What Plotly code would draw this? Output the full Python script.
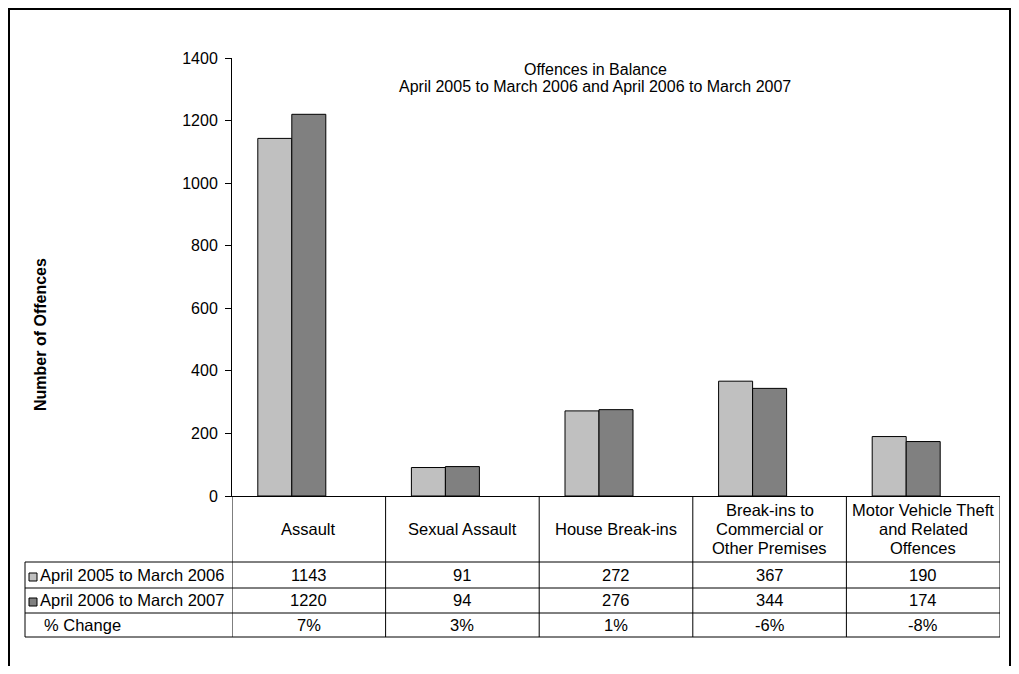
import plotly.graph_objects as go

# ---------------- data ----------------
categories = [
    "Assault",
    "Sexual Assault",
    "House Break-ins",
    "Break-ins to\nCommercial or\nOther Premises",
    "Motor Vehicle Theft\nand Related\nOffences",
]
series_names = ["April 2005 to March 2006", "April 2006 to March 2007", "% Change"]
values_2005_06 = [1143, 91, 272, 367, 190]
values_2006_07 = [1220, 94, 276, 344, 174]
pct_change = [7, 3, 1, -6, -8]

chart_title = "Offences in Balance"
chart_subtitle = "April 2005 to March 2006 and April 2006 to March 2007"
y_title = "Number of Offences"
y_ticks = [0, 200, 400, 600, 800, 1000, 1200, 1400]

# ---------------- geometry helpers (screen pixel -> paper) ----------------
OFF = 8  # page body margin
W, H = 1019 - OFF, 674 - 2 * OFF
# plot area in screen pixels: x 232..1000, y 58..496
L, R, T = 232 - OFF, (W + OFF) - 1000, 58 - OFF
B = (H + OFF) - 496
PW, PH = W - L - R, H - T - B


def px(x):
    return (x - OFF - L) / PW


def py(y):
    return (H - B - (y - OFF)) / PH


FONT = "Arial, 'Liberation Sans', sans-serif"
LIGHT = "#C0C0C0"
DARK = "#808080"

x_idx = list(range(len(categories)))

fig = go.Figure()
fig.add_trace(go.Bar(x=x_idx, y=values_2005_06, name=series_names[0],
                     marker=dict(color=LIGHT, line=dict(color="black", width=1))))
fig.add_trace(go.Bar(x=x_idx, y=values_2006_07, name=series_names[1],
                     marker=dict(color=DARK, line=dict(color="black", width=1))))
fig.add_trace(go.Bar(x=x_idx, y=[p / 100 for p in pct_change], name=series_names[2],
                     marker=dict(color="rgba(0,0,0,0)", line=dict(width=0))))

shapes = []
annotations = []

# outer frame (open at the bottom)
frame = dict(color="black", width=2)
shapes.append(dict(type="line", xref="paper", yref="paper",
                   x0=px(9), x1=px(9), y0=py(9), y1=py(700), line=frame))
shapes.append(dict(type="line", xref="paper", yref="paper",
                   x0=px(1010), x1=px(1010), y0=py(9), y1=py(700), line=frame))
shapes.append(dict(type="line", xref="paper", yref="paper",
                   x0=px(8), x1=px(1011), y0=py(9), y1=py(9), line=frame))

# data table lines
row_lines = [562, 588, 613, 637]
for yy in row_lines:
    shapes.append(dict(type="line", xref="paper", yref="paper",
                       x0=px(25), x1=1, y0=py(yy), y1=py(yy),
                       line=dict(color="black", width=1)))
shapes.append(dict(type="line", xref="paper", yref="paper",
                   x0=px(25), x1=px(25), y0=py(562), y1=py(637),
                   line=dict(color="black", width=1)))
for i in range(len(categories) + 1):
    shapes.append(dict(type="line", xref="x", yref="paper",
                       x0=i - 0.5, x1=i - 0.5, y0=0, y1=py(637),
                       line=dict(color="black", width=1)))

# legend keys in table
for yc, col in [(577, LIGHT), (602, DARK)]:
    shapes.append(dict(type="rect", xref="paper", yref="paper",
                       x0=px(29), x1=px(37), y0=py(yc - 4), y1=py(yc + 4),
                       fillcolor=col, line=dict(color="black", width=1)))

tf = dict(family=FONT, size=16.5, color="black")

# header labels (one annotation per line, ~19px line pitch)
for i, c in enumerate(categories):
    lines = c.split("\n")
    n = len(lines)
    for k, ln in enumerate(lines):
        yc = 529 + (k - (n - 1) / 2) * 19
        annotations.append(dict(xref="x", yref="paper", x=i, y=py(yc), text=ln,
                                showarrow=False, xanchor="center", yanchor="middle", font=tf))

# row labels
row_centers = [575, 600, 625]
annotations.append(dict(xref="paper", yref="paper", x=px(38), y=py(row_centers[0]),
                        text=series_names[0], showarrow=False, xanchor="left",
                        yanchor="middle", font=tf))
annotations.append(dict(xref="paper", yref="paper", x=px(38), y=py(row_centers[1]),
                        text=series_names[1], showarrow=False, xanchor="left",
                        yanchor="middle", font=tf))
annotations.append(dict(xref="paper", yref="paper", x=px(42), y=py(row_centers[2]),
                        text=series_names[2], showarrow=False, xanchor="left",
                        yanchor="middle", font=tf))

# table values
for i in x_idx:
    for yc, txt in [(row_centers[0], str(values_2005_06[i])),
                    (row_centers[1], str(values_2006_07[i])),
                    (row_centers[2], f"{pct_change[i]}%")]:
        annotations.append(dict(xref="x", yref="paper", x=i, y=py(yc), text=txt,
                                showarrow=False, xanchor="center", yanchor="middle", font=tf))

# title
annotations.append(dict(xref="paper", yref="paper", x=px(595), y=py(69), text=chart_title,
                        showarrow=False, xanchor="center", yanchor="middle",
                        font=dict(family=FONT, size=16, color="black")))
annotations.append(dict(xref="paper", yref="paper", x=px(595), y=py(86), text=chart_subtitle,
                        showarrow=False, xanchor="center", yanchor="middle",
                        font=dict(family=FONT, size=16, color="black")))

# y axis title
annotations.append(dict(xref="paper", yref="paper", x=px(40), y=py(335), text=f"<b>{y_title}</b>",
                        showarrow=False, textangle=-90, xanchor="center", yanchor="middle",
                        font=dict(family=FONT, size=16, color="black")))

fig.update_layout(
    width=W, height=H,
    margin=dict(l=L, r=R, t=T, b=B, pad=0),
    paper_bgcolor="white", plot_bgcolor="white",
    barmode="group", bargap=0.336, bargroupgap=0,
    showlegend=False,
    font=dict(family=FONT, size=16, color="black"),
    shapes=shapes, annotations=annotations,
    xaxis=dict(range=[-0.5, len(categories) - 0.5], showticklabels=False, ticks="",
               showgrid=False, zeroline=False, showline=True, linecolor="black", linewidth=1,
               fixedrange=True),
    yaxis=dict(range=[0, 1400], tickvals=y_ticks, ticks="outside", ticklen=6,
               tickcolor="black", tickwidth=1, showgrid=False, zeroline=False,
               showline=True, linecolor="black", linewidth=1, ticklabelstandoff=4,
               tickfont=dict(family=FONT, size=16, color="black"), fixedrange=True),
    hovermode=False,
)

fig.write_html("out.html")
